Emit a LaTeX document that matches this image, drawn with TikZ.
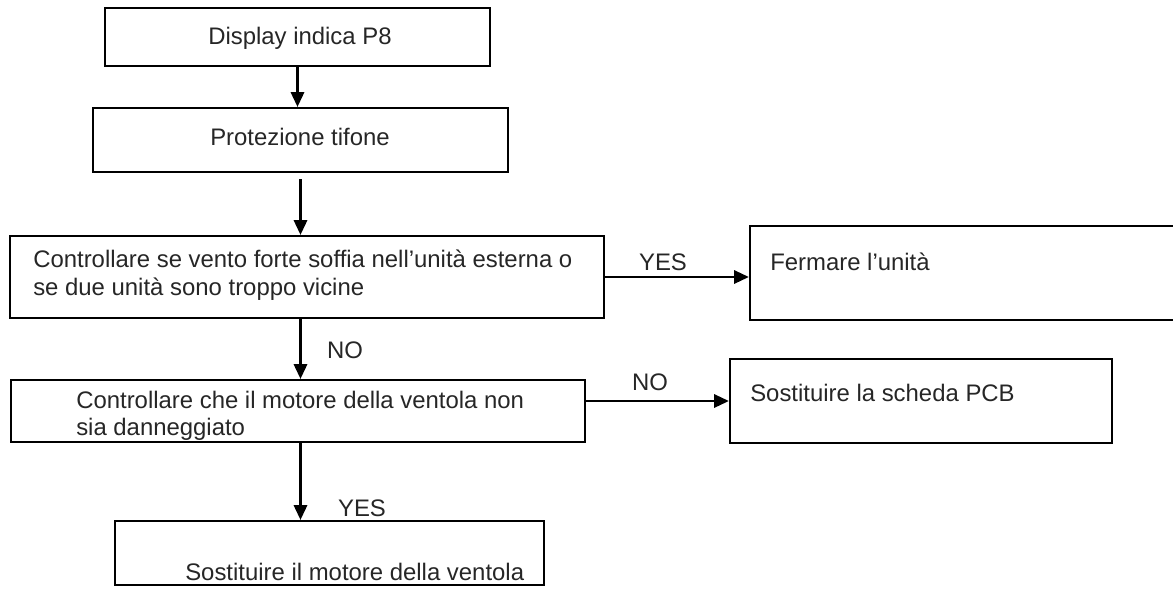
\documentclass[tikz,border=0pt]{standalone}
\usepackage{fontspec}
\setmainfont{Liberation Sans}
\usetikzlibrary{arrows.meta}

\begin{document}
\begin{tikzpicture}[x=0.025cm,y=-0.025cm,
  box/.style={draw=black,line width=1.5pt,rectangle,inner sep=0pt},
  txt/.style={font=\fontsize{17pt}{19.5pt}\selectfont,text=black!85,inner sep=0pt,align=left},
  arr/.style={draw=black,line width=1.8pt,-{Triangle[length=0.37cm,width=0.33cm]}}]
\useasboundingbox (0,0) rectangle (1173,588);

% boxes
\node[box,minimum width=9.625cm,minimum height=1.45cm] (b1) at (297.5,37) {};
\node[box,minimum width=10.375cm,minimum height=1.6cm] (b2) at (300.5,140) {};
\node[box,minimum width=14.85cm,minimum height=2.05cm] (b3) at (307,277) {};
\node[box,minimum width=11cm,minimum height=2.35cm] (b4) at (970,273) {};
\node[box,minimum width=14.35cm,minimum height=1.55cm] (b5) at (298,411) {};
\node[box,minimum width=9.55cm,minimum height=2.1cm] (b6) at (921,401) {};
\node[box,minimum width=10.725cm,minimum height=1.6cm] (b7) at (329.5,553) {};

% texts
\node[txt] (t1) at (300,38) {Display indica P8};
\node[txt] (t2) at (300,137) {Protezione tifone};
\node[txt,anchor=west] (t3) at (33,275) {Controllare se vento forte soffia nell’unità esterna o\\se due unità sono troppo vicine};
\node[txt,anchor=west] (t4) at (770,262) {Fermare l’unità};
\node[txt,anchor=west] (t5) at (76,416) {Controllare che il motore della ventola non\\sia danneggiato};
\node[txt,anchor=west] (t6) at (750,393) {Sostituire la scheda PCB};
\node[txt,anchor=west] (t7) at (185,572) {Sostituire il motore della ventola};

% arrows
\draw[arr] (b1.south) -- (b1.south |- b2.north);
\draw[arr,shorten <=0.15cm] (b2.south) -- (b2.south |- b3.north);
\draw[arr] (b3.south -| b2.south) -- (b5.north -| b2.south);
\draw[arr] (b3.east) -- (b3.east -| b4.west);
\draw[arr] (b6.west -| b5.east) -- (b6.west);
\draw[arr] (b5.south -| b2.south) -- (b7.north -| b2.south);

% labels
\node[txt] (yes1) at (663,262) {YES};
\node[txt] (no1) at (345,350) {NO};
\node[txt] (no2) at (650,382) {NO};
\node[txt] (yes2) at (362,508) {YES};

\end{tikzpicture}
\end{document}
